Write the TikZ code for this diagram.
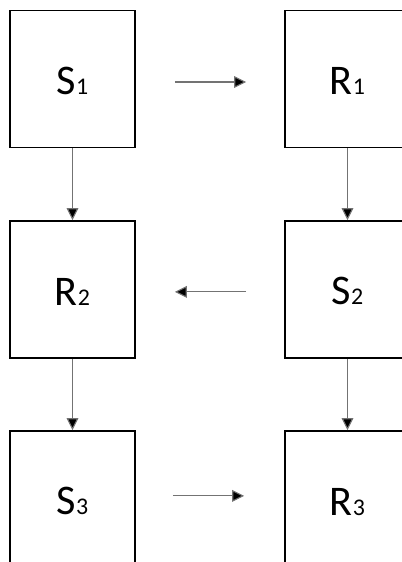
\documentclass[tikz,border=0pt]{standalone}
\usepackage{fontspec}
\setmainfont{Carlito}
\usepackage{tikz}
\usetikzlibrary{arrows.meta}
\tikzstyle{statebox} = [rectangle, draw=black, line width=1.1pt, minimum width=3.125cm, minimum height=3.425cm, text height=0.78cm, inner sep=0pt, text centered]
\tikzstyle{arrow} = [draw=black!55, line width=0.8pt, -{Triangle[length=0.3cm,width=0.29cm,fill=black]}]
\newcommand{\lbl}[2]{{\fontsize{30}{32}\selectfont #1}{\fontsize{17}{18}\selectfont #2}}

\begin{document}
\begin{tikzpicture}[x=0.025cm, y=-0.025cm]
		\useasboundingbox (0,0) rectangle (402,562);
		
		% Nodes for left column
		\node (s1) [statebox] at (72.5,79) {\lbl{S}{1}};
		\node (r2) [statebox] at (72.5,289.5) {\lbl{R}{2}};
		\node (s3) [statebox] at (72.5,499.5) {\lbl{S}{3}};
		
		% Nodes for right column
		\node (r1) [statebox] at (347.5,79) {\lbl{R}{1}};
		\node (s2) [statebox] at (347.5,289.5) {\lbl{S}{2}};
		\node (r3) [statebox] at (347.5,499.5) {\lbl{R}{3}};
		
		% Vertical arrows
		\draw [arrow] (s1) -- (r2);
		\draw [arrow] (r2) -- (s3);
		\draw [arrow] (r1) -- (s2);
		\draw [arrow] (s2) -- (r3);
		
		% Horizontal arrows between columns
		\draw [arrow, shorten <=0.975cm, shorten >=0.95cm] ([yshift=-0.075cm]s1.east) -- ([yshift=-0.075cm]r1.west);
		\draw [arrow, shorten <=0.95cm, shorten >=0.975cm] ([yshift=-0.06cm]s2.west) -- ([yshift=-0.06cm]r2.east);
		\draw [arrow, shorten <=0.925cm, shorten >=1cm] ([yshift=0.09cm]s3.east) -- ([yshift=0.09cm]r3.west);
		
	\end{tikzpicture}
\end{document}
